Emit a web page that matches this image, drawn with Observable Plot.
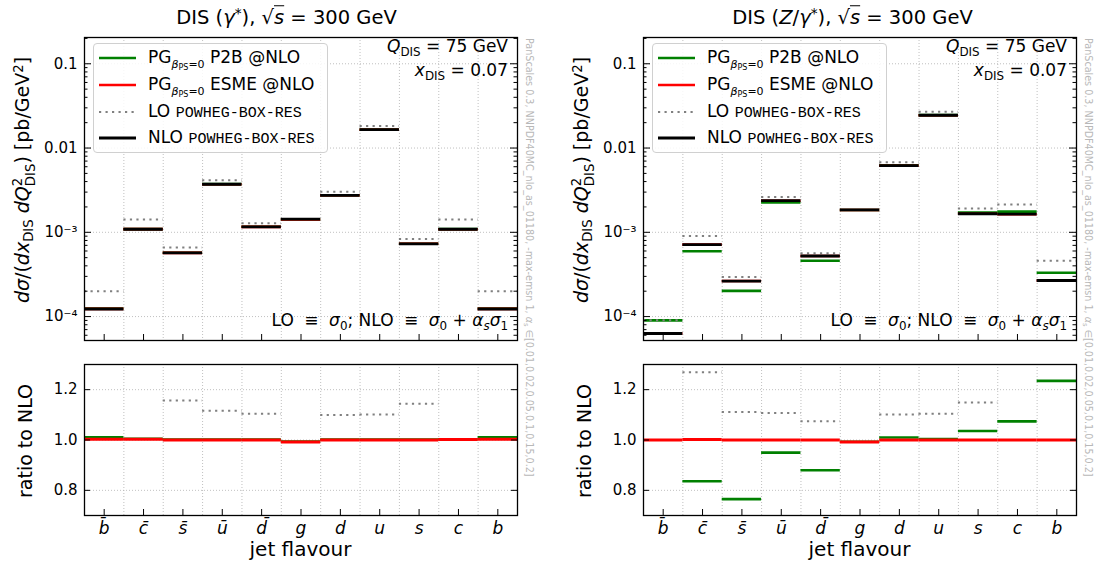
<!DOCTYPE html>
<html><head><meta charset="utf-8">
<script src="https://cdn.jsdelivr.net/npm/d3@7"></script>
<script src="https://cdn.jsdelivr.net/npm/@observablehq/plot@0.6"></script>
<style>
body{margin:0;background:#fff;font-family:"DejaVu Sans",sans-serif;color:#000;}
#root{position:relative;width:1094px;height:563px;overflow:hidden;background:#fff;}
.abs{position:absolute;white-space:nowrap;line-height:1;}
.plot{position:absolute;}
.sb{font-size:0.7em;position:relative;top:0.3em;}
.sp{font-size:0.7em;position:relative;top:-0.45em;}
.stack{display:inline-block;font-size:0.7em;line-height:0.95;vertical-align:-0.42em;text-align:left;}
.stack span{display:block;}
.title{font-size:19.5px;transform:translate(-50%,-50%);}
.ylab{font-size:19px;transform:translate(-50%,-50%) rotate(-90deg);}
.xlab{font-size:20px;transform:translate(-50%,-50%);}
.ann{font-size:17px;transform:translate(-100%,-50%);}
.side{font-size:9.6px;color:#b8b8b8;transform-origin:0 0;transform:rotate(90deg);}
.legend{position:absolute;border:1px solid #d0d0d0;border-radius:4px;background:rgba(255,255,255,0.85);}
.lrow{position:absolute;left:0;white-space:nowrap;font-size:17px;line-height:1;}
.mono{font-family:"Liberation Mono",monospace;font-size:15px;}
.sp2{display:inline-block;width:0.3em;}
</style></head><body><div id="root"></div>
<script>
// ---------------- data ----------------
const flavours = ["b\u0304","c\u0304","s\u0304","u\u0304","d\u0304","g","d","u","s","c","b"];

// DIS (gamma*) panel
const nloA  = [1.23e-4, 1.087e-3, 5.7e-4, 3.72e-3, 1.16e-3, 1.43e-3, 2.75e-3, 0.0165, 7.3e-4, 1.087e-3, 1.23e-4];
const loA   = [2.0e-4, 1.42e-3, 6.6e-4, 4.15e-3, 1.28e-3, null, 3.02e-3, 0.0182, 8.35e-4, 1.42e-3, 2.0e-4];
const p2bA  = [1.245e-4, 1.092e-3, 5.71e-4, 3.73e-3, 1.162e-3, 1.423e-3, 2.755e-3, 0.01653, 7.31e-4, 1.09e-3, 1.245e-4];
const esmeA = [1.234e-4, 1.09e-3, 5.7e-4, 3.72e-3, 1.16e-3, 1.42e-3, 2.75e-3, 0.0165, 7.3e-4, 1.089e-3, 1.234e-4];
const rP2bA  = [1.011, 1.005, 1.002, 1.002, 1.002, 0.994, 1.002, 1.002, 1.002, 1.003, 1.011];
const rEsmeA = [1.003, 1.003, 1.0, 1.0, 1.0, 0.992, 1.0, 1.0, 1.0, 1.002, 1.003];
const rLoA   = [1.63, 1.31, 1.157, 1.116, 1.104, null, 1.099, 1.101, 1.144, 1.31, 1.63];

// DIS (Z/gamma*) panel
const nloB  = [6.3e-5, 7.14e-4, 2.64e-4, 2.37e-3, 5.23e-4, 1.85e-3, 6.17e-3, 0.0245, 1.66e-3, 1.64e-3, 2.68e-4];
const loB   = [9.05e-5, 9.06e-4, 2.94e-4, 2.63e-3, 5.64e-4, null, 6.8e-3, 0.0270, 1.91e-3, 2.14e-3, 4.6e-4];
const p2bB  = [9.0e-5, 5.97e-4, 2.02e-4, 2.26e-3, 4.6e-4, 1.84e-3, 6.23e-3, 0.0246, 1.72e-3, 1.76e-3, 3.31e-4];
const esmeB = [6.3e-5, 7.15e-4, 2.64e-4, 2.37e-3, 5.23e-4, 1.84e-3, 6.17e-3, 0.0245, 1.66e-3, 1.64e-3, 2.68e-4];
const rP2bB  = [1.43, 0.836, 0.765, 0.95, 0.88, 0.993, 1.01, 1.004, 1.036, 1.074, 1.235];
const rEsmeB = [1.0, 1.002, 1.0, 1.0, 1.0, 0.992, 1.0, 1.0, 1.0, 1.0, 1.0];
const rLoB   = [1.44, 1.269, 1.111, 1.107, 1.075, null, 1.101, 1.104, 1.149, 1.305, 1.72];

const yTicksMain = [1e-4, 1e-3, 1e-2, 1e-1];
const yTickLabelsMain = ["10\u207B\u2074", "10\u207B\u00B3", "0.01", "0.1"];
const yTicksRatio = [0.8, 1.0, 1.2];
const yTickLabelsRatio = ["0.8", "1.0", "1.2"];
const titles = [
  'DIS (<i>γ</i><span class="sp">*</span>), √<span style="text-decoration:overline"><i>s</i></span> = 300 GeV',
  'DIS (<i>Z</i>/<i>γ</i><span class="sp">*</span>), √<span style="text-decoration:overline"><i>s</i></span> = 300 GeV'
];

// ---------------- layout ----------------
const root = document.getElementById("root");
const W = 433, HM = 303, HR = 151;
const yDomMain = [5.2e-5, 0.205];
const yDomRatio = [0.7, 1.3];
const C = {green:"#008000", red:"#ff0000", gray:"#808080", black:"#000000", grid:"#b0b0b0"};
const centers = d3.range(11).map(i => i + 0.5);
const edges = d3.range(1, 11);
const minorMain = [];
for (let k = -5; k <= -1; k++) for (let m = 2; m <= 9; m++) {
  const v = m * Math.pow(10, k);
  if (v > yDomMain[0] && v < yDomMain[1]) minorMain.push(v);
}
const rows = arr => arr.map((v, i) => ({i, v})).filter(d => d.v != null);
const baseStyle = {fontFamily:"DejaVu Sans", fontSize:"15px", color:"#000", background:"transparent", overflow:"visible"};
const ML = 60;

function stepRule(arr, stroke, sw, extra = {}) {
  return Plot.ruleY(rows(arr), {x1: d => d.i, x2: d => d.i + 1, y: "v", stroke, strokeWidth: sw, clip: true, ...extra});
}
function inTicksY(vals, len) {
  return [
    Plot.ruleY(vals, {y: d => d, insetRight: W - len, stroke: "#000", strokeWidth: 1}),
    Plot.ruleY(vals, {y: d => d, insetLeft: W - len, stroke: "#000", strokeWidth: 1})
  ];
}
function inTicksX(vals, len, H) {
  return Plot.ruleX(vals, {x: d => d, insetTop: H - len, stroke: "#000", strokeWidth: 1});
}

function mainPanel(left, nlo, lo, p2b, esme) {
  const p = Plot.plot({
    width: W + ML + 2, height: HM + 3, marginLeft: ML, marginRight: 2, marginTop: 1, marginBottom: 2,
    x: {type: "linear", domain: [0, 11]},
    y: {type: "log", domain: yDomMain},
    style: baseStyle,
    marks: [
      Plot.gridX(edges, {stroke: C.grid, strokeOpacity: 1, strokeWidth: 0.8, strokeDasharray: "1,2"}),
      Plot.gridY(yTicksMain, {stroke: C.grid, strokeOpacity: 1, strokeWidth: 0.8, strokeDasharray: "1,2"}),
      stepRule(p2b, C.green, 2.6),
      stepRule(esme, C.red, 2.6),
      stepRule(lo, C.gray, 2, {strokeDasharray: "2.2,4.3"}),
      stepRule(nlo, C.black, 2.8),
      ...inTicksY(yTicksMain, 7),
      ...inTicksY(minorMain, 3.5),
      inTicksX(centers, 6, HM),
      Plot.axisY(yTicksMain, {tickSize: 0, tickPadding: 7, label: null, fontSize: 15,
        tickFormat: d => yTickLabelsMain[yTicksMain.indexOf(d)]}),
      Plot.axisX([], {label: null, tickSize: 0}),
      Plot.frame({stroke: "#000", strokeWidth: 1.3})
    ]
  });
  p.classList.add("plot");
  p.style.left = (left - ML) + "px";
  p.style.top = "36px";
  root.appendChild(p);
}

function ratioPanel(left, rLo, rP2b, rEsme) {
  const p = Plot.plot({
    width: W + ML + 2, height: HR + 31, marginLeft: ML, marginRight: 2, marginTop: 1, marginBottom: 30,
    x: {type: "linear", domain: [0, 11]},
    y: {type: "linear", domain: yDomRatio},
    style: baseStyle,
    marks: [
      Plot.gridX(edges, {stroke: C.grid, strokeOpacity: 1, strokeWidth: 0.8, strokeDasharray: "1,2"}),
      Plot.gridY(yTicksRatio, {stroke: C.grid, strokeOpacity: 1, strokeWidth: 0.8, strokeDasharray: "1,2"}),
      stepRule(rP2b, C.green, 2.6),
      stepRule(rEsme, C.red, 2.8),
      stepRule(rLo, C.gray, 2, {strokeDasharray: "2.2,4.3"}),
      ...inTicksY(yTicksRatio, 6),
      inTicksX(centers, 6, HR),
      Plot.axisY(yTicksRatio, {tickSize: 0, tickPadding: 7, label: null, fontSize: 15,
        tickFormat: d => yTickLabelsRatio[yTicksRatio.indexOf(d)]}),
      Plot.axisX(centers, {tickSize: 0, tickPadding: 6, label: null, fontSize: 17, fontStyle: "italic",
        tickFormat: d => flavours[Math.floor(d)]}),
      Plot.frame({stroke: "#000", strokeWidth: 1.3})
    ]
  });
  p.classList.add("plot");
  p.style.left = (left - ML) + "px";
  p.style.top = "363px";
  root.appendChild(p);
}

function addHTML(cls, html, x, y) {
  const d = document.createElement("div");
  d.className = "abs " + cls;
  d.style.left = x + "px";
  d.style.top = y + "px";
  d.innerHTML = html;
  root.appendChild(d);
  return d;
}

function legend(left) {
  const box = document.createElement("div");
  box.className = "legend";
  box.style.left = left + "px";
  box.style.top = "43px";
  box.style.width = "233px";
  box.style.height = "108px";
  const entries = [
    {stroke: C.green, dash: null, sw: 2.6, html: 'PG<span style="font-size:11px;position:relative;top:5px"><i>β</i><span style="font-size:8px;position:relative;top:2px">PS</span>=0</span> P2B @NLO'},
    {stroke: C.red, dash: null, sw: 2.6, html: 'PG<span style="font-size:11px;position:relative;top:5px"><i>β</i><span style="font-size:8px;position:relative;top:2px">PS</span>=0</span> ESME @NLO'},
    {stroke: C.gray, dash: "2.2,4.3", sw: 2, html: 'LO <span class="mono">POWHEG-BOX-RES</span>'},
    {stroke: C.black, dash: null, sw: 2.8, html: 'NLO <span class="mono">POWHEG-BOX-RES</span>'}
  ];
  const cy = [14, 41, 67.5, 93.5];
  entries.forEach((e, k) => {
    const svg = d3.create("svg").attr("width", 40).attr("height", 6)
      .style("position", "absolute").style("left", "4px").style("top", (cy[k] - 3) + "px");
    svg.append("line").attr("x1", 1).attr("x2", 38).attr("y1", 3).attr("y2", 3)
      .attr("stroke", e.stroke).attr("stroke-width", e.sw).attr("stroke-dasharray", e.dash);
    box.appendChild(svg.node());
    const t = document.createElement("div");
    t.className = "lrow";
    t.style.left = "54px";
    t.style.top = (cy[k] - 9) + "px";
    t.innerHTML = e.html;
    box.appendChild(t);
  });
  root.appendChild(box);
}

const sideText = 'PanScales 0.3, NNPDF40MC_nlo_as_01180, -max-emsn 1, <i>α</i><span class="sb">s</span> ∈[0.01,0.02,0.05,0.1,0.15,0.2]';
const ylabMain = '<i>dσ</i>/(<i>dx</i><span class="sb">DIS</span> <i>dQ</i><span class="stack"><span>2</span><span>DIS</span></span>) [pb/GeV<span class="sp">2</span>]';
const loDef = 'LO <span class="sp2"></span>≡<span class="sp2"></span> <i>σ</i><span class="sb">0</span>; NLO <span class="sp2"></span>≡<span class="sp2"></span> <i>σ</i><span class="sb">0</span> + <i>α<span class="sb">s</span>σ</i><span class="sb">1</span>';

const panels = [
  {left: 84, data: [nloA, loA, p2bA, esmeA], r: [rLoA, rP2bA, rEsmeA], title: titles[0], tdx: -14},
  {left: 643, data: [nloB, loB, p2bB, esmeB], r: [rLoB, rP2bB, rEsmeB], title: titles[1], tdx: -7}
];
panels.forEach(pn => {
  mainPanel(pn.left, ...pn.data);
  ratioPanel(pn.left, ...pn.r);
  const cx = pn.left + W / 2;
  addHTML("title", pn.title, cx + pn.tdx, 18);
  addHTML("xlab", "jet flavour", cx, 549);
  addHTML("ylab", ylabMain, pn.left - 59, 180);
  addHTML("ylab", "ratio to NLO", pn.left - 59, 441);
  addHTML("ann", '<i>Q</i><span class="sb">DIS</span> = 75 GeV', pn.left + W - 9, 46);
  addHTML("ann", '<i>x</i><span class="sb">DIS</span> = 0.07', pn.left + W - 9, 70);
  addHTML("ann", loDef, pn.left + W - 9, 320);
  addHTML("side", sideText, pn.left + W + 17, 38);
  legend(pn.left + 9);
});
</script>
</body></html>
